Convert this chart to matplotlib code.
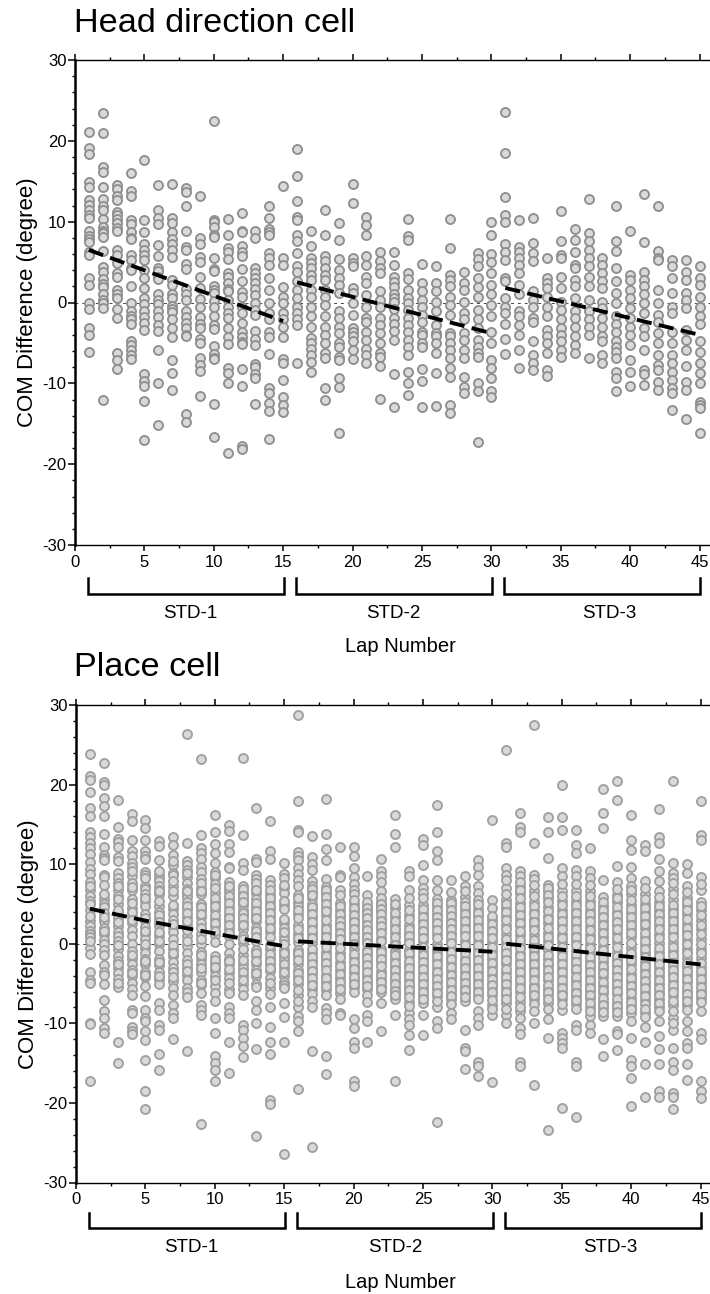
import matplotlib
matplotlib.use("Agg")
import matplotlib.pyplot as plt
from matplotlib.ticker import MultipleLocator
from matplotlib.transforms import blended_transform_factory

plt.rcParams['font.family'] = ['Liberation Sans', 'DejaVu Sans']
plt.rcParams['axes.unicode_minus'] = False

W, H = 710, 1294

hd_std1 = [
 [21.1,19.1,18.4,14.9,14.3,12.7,12.1,11.4,10.8,10.5,8.8,8.2,7.9,7.5,6.3,5.9,3.0,2.2,0,-0.8,-3.2,-4.0,-6.1],
 [23.4,21.0,16.8,16.2,14.3,12.8,12.0,11.4,10.3,9.3,8.9,8.6,8.1,6.4,4.4,3.8,2.9,2.3,1.9,1.0,0.3,0,-0.7,-12.0],
 [14.5,14.0,13.2,12.7,11.2,10.8,10.3,9.8,9.2,8.9,6.5,5.9,4.9,3.6,3.2,1.5,1.0,0.6,-0.8,-1.9,-6.2,-7.1,-8.2],
 [16.0,13.8,13.2,10.2,9.7,8.7,8.0,7.8,5.9,5.3,4.3,4.0,2.1,0,-1.0,-1.7,-2.1,-2.7,-4.8,-5.3,-5.9,-6.5,-7.0],
 [17.6,10.2,8.7,7.2,6.5,5.9,5.3,4.0,3.0,1.8,0.6,-0.2,-1.0,-1.8,-2.5,-3.4,-8.9,-9.7,-10.3,-12.2,-17.0],
 [14.5,11.4,10.4,9.7,7.1,5.8,4.3,3.9,3.2,2.9,1.0,0.3,-0.2,-1.0,-1.8,-2.8,-3.5,-5.9,-10.0,-15.1],
 [14.6,10.5,9.8,8.7,7.8,7.2,6.5,5.6,2.8,2.2,1.0,0.5,-0.4,-0.8,-1.2,-2.0,-3.2,-4.3,-7.1,-8.7,-10.8],
 [14.2,13.7,12.0,8.9,6.9,6.5,4.8,4.1,1.7,1.0,0.3,-1.0,-1.8,-2.5,-3.2,-4.0,-4.2,-13.8,-14.8],
 [13.2,8.0,7.2,5.6,5.0,3.2,1.8,0.4,-0.5,-1.8,-2.6,-3.2,-4.5,-5.0,-6.9,-7.7,-8.5,-11.6],
 [22.4,10.2,9.9,9.3,8.3,8.1,5.5,4.2,3.9,2.0,1.6,1.2,0.2,-0.5,-1.7,-2.8,-3.3,-5.4,-6.4,-6.9,-7.0,-12.5,-16.6],
 [10.3,8.4,6.8,6.2,5.4,3.7,3.1,2.4,1.7,1.4,0.3,-0.5,-1.3,-1.9,-3.1,-4.3,-5.1,-8.1,-8.7,-9.9,-18.6],
 [11.1,8.9,8.7,7.0,6.3,5.8,4.1,2.6,1.3,0.7,-0.5,-1.3,-2.5,-3.6,-4.3,-4.9,-5.1,-8.2,-10.3,-17.8,-18.1],
 [8.8,8.0,4.3,3.6,3.0,2.4,1.7,0.9,-0.1,-0.9,-1.6,-3.5,-4.5,-5.3,-7.6,-8.0,-8.8,-9.3,-12.5],
 [11.9,10.4,9.1,8.7,8.4,6.1,5.5,4.7,3.0,1.5,-0.1,-1.3,-2.0,-3.6,-4.3,-6.4,-10.6,-11.2,-12.4,-13.4,-16.9],
 [14.4,5.5,4.6,1.9,0.7,-0.1,-1.3,-2.0,-3.0,-4.3,-7.0,-7.5,-9.6,-11.7,-12.7,-13.5],
]
hd_std2 = [
 [19.0,15.6,12.6,10.6,10.2,8.4,7.6,6.1,4.5,3.8,2.6,1.6,0.5,-0.5,-1.3,-2.0,-2.8,-7.5],
 [8.8,7.0,5.5,4.9,4.3,3.4,2.8,1.6,0.7,-0.5,-1.7,-3.0,-4.4,-5.0,-5.7,-6.5,-7.3,-8.6],
 [11.5,8.3,5.7,5.1,4.3,3.4,2.8,1.6,0.7,-0.3,-1.7,-3.0,-4.0,-5.0,-6.3,-6.9,-10.6,-12.0],
 [9.8,7.7,5.4,4.0,3.0,2.2,1.2,-1.1,-1.9,-3.0,-3.8,-5.0,-5.5,-6.7,-7.1,-9.4,-10.4,-16.2],
 [14.6,12.3,5.5,4.9,4.5,1.8,1.2,-0.1,-1.5,-3.2,-3.6,-4.2,-4.8,-5.9,-7.0],
 [10.6,9.6,8.4,5.8,4.7,3.2,2.4,0.9,-0.6,-1.9,-2.4,-3.6,-4.6,-5.7,-6.5,-7.5],
 [6.3,5.1,4.3,3.6,1.4,0.3,-0.5,-1.9,-2.8,-3.8,-5.0,-6.3,-6.7,-7.9,-11.9],
 [6.2,4.7,3.1,2.5,1.9,1.1,0.6,0.1,-0.8,-1.9,-2.7,-3.5,-4.7,-8.8,-12.9],
 [10.3,8.2,7.7,3.7,2.9,1.5,0.5,-0.1,-0.9,-1.9,-2.8,-3.6,-4.6,-5.5,-6.5,-8.6,-10.0,-11.4],
 [4.8,2.4,1.4,0.3,-0.5,-1.5,-2.4,-3.6,-4.0,-5.0,-5.5,-8.2,-9.7,-12.9],
 [4.5,2.4,1.4,0.1,-1.1,-2.8,-3.8,-4.2,-5.0,-6.3,-8.7,-12.8],
 [10.3,6.8,3.4,2.8,2.0,0.7,-0.3,-1.5,-3.8,-4.2,-5.0,-5.9,-6.9,-8.1,-9.2,-12.7,-13.7],
 [3.8,2.4,1.6,0.1,-1.3,-2.1,-3.8,-4.6,-5.9,-6.9,-9.2,-10.4,-11.2],
 [6.1,5.4,4.5,3.0,1.9,0.7,-0.9,-2.1,-3.2,-4.6,-5.5,-6.3,-6.7,-9.9,-11.0,-17.2],
 [9.9,8.3,6.0,5.0,3.6,2.2,1.0,-0.3,-1.7,-3.6,-5.0,-7.1,-8.1,-9.4,-11.0,-11.7],
]
hd_std3 = [
 [23.6,18.5,13.0,10.8,10.0,7.2,6.2,5.3,3.0,2.6,0.5,-0.5,-1.3,-2.6,-4.5,-6.4],
 [10.2,6.9,6.3,5.5,4.7,3.6,2.2,1.0,-1.1,-1.7,-2.8,-4.0,-5.9,-8.1],
 [10.5,7.4,6.1,5.1,1.4,0.3,-0.5,-1.9,-2.4,-4.8,-6.5,-7.5,-8.3],
 [5.5,3.0,2.4,1.8,0.7,-0.5,-1.7,-3.4,-4.2,-5.0,-6.3,-8.3,-9.1],
 [11.3,7.6,5.9,5.5,3.2,1.8,0.1,-0.9,-2.1,-3.2,-4.0,-4.8,-5.9,-6.7],
 [9.1,7.7,6.3,4.7,4.3,2.8,2.0,0.5,-1.1,-1.9,-3.0,-4.2,-5.2,-6.3],
 [12.8,8.6,7.6,6.5,5.5,4.5,3.2,2.0,0.3,-1.1,-2.1,-3.0,-4.0,-6.9],
 [5.5,4.7,3.6,2.6,1.8,0.1,-0.7,-1.9,-3.0,-4.2,-4.8,-6.5,-7.5],
 [11.9,7.6,6.4,4.3,2.6,1.2,-0.1,-1.7,-2.6,-3.6,-4.8,-5.5,-6.1,-6.9,-8.6,-9.4,-11.0],
 [8.9,3.4,2.8,1.6,0.5,-0.7,-1.9,-3.0,-4.0,-5.2,-7.1,-8.6,-10.3],
 [13.4,7.5,3.8,2.8,2.0,1.0,-0.1,-1.3,-3.2,-4.2,-5.9,-8.3,-8.8,-10.2],
 [12.0,6.4,5.5,5.3,1.6,-0.1,-1.5,-2.4,-3.8,-5.0,-6.5,-7.7,-8.3,-9.8,-10.8],
 [5.3,4.5,3.0,1.2,-0.5,-1.3,-3.6,-5.0,-6.5,-7.5,-8.6,-9.6,-10.6,-11.2,-13.3],
 [5.2,3.8,2.8,1.2,0.3,-0.7,-3.4,-4.6,-5.9,-7.8,-9.8,-10.8,-14.4],
 [4.5,3.0,2.2,0.7,-0.5,-1.7,-2.6,-4.8,-6.1,-7.5,-8.7,-9.9,-12.3,-12.7,-13.1,-16.2],
]
pc_std1 = [
 [23.8,21.1,20.6,19.1,17.1,16.1,14.0,13.4,12.6,12.0,11.3,10.3,9.4,8.8,7.7,6.7,6.0,5.4,4.3,2.9,2.2,1.6,1.2,0.9,-0.5,-1.3,-3.5,-4.5,-4.9,-9.9,-10.1,-17.2],
 [22.7,20.3,20.0,18.3,17.3,16.1,13.8,12.2,11.2,10.8,10.5,8.7,8.4,7.4,5.6,5.0,4.6,3.9,2.8,2.0,1.2,0.5,0,-0.8,-2.7,-3.6,-3.9,-5.1,-7.1,-8.5,-9.3,-10.6,-11.2],
 [18.1,14.7,13.2,12.8,12.2,10.9,10.4,8.9,8.2,7.6,6.8,6.0,5.0,3.8,3.2,2.2,1.5,1.0,0.3,-0.7,-1.6,-2.2,-3.0,-3.7,-4.4,-5.4,-12.3,-15.0],
 [16.3,15.4,13.0,11.7,11.0,10.1,9.7,8.5,7.6,6.7,5.6,4.5,3.5,2.6,1.7,1.0,0,-0.9,-1.9,-2.5,-3.3,-4.1,-4.9,-5.7,-6.4,-8.3,-8.7,-10.4,-11.0,-11.4],
 [15.6,14.5,13.0,11.6,11.0,10.6,9.0,8.6,7.3,6.9,6.2,5.4,4.7,3.7,2.8,2.1,1.2,0.6,-0.5,-1.1,-1.9,-2.5,-3.5,-4.2,-5.3,-6.6,-8.3,-9.3,-9.7,-11.0,-12.1,-14.6,-18.5,-20.8],
 [12.9,12.3,10.5,8.7,8.3,7.9,7.3,6.8,6.2,4.7,4.0,3.1,2.2,1.0,0,-0.9,-1.9,-2.7,-3.5,-4.4,-5.0,-7.4,-8.3,-10.2,-10.8,-13.8,-15.9],
 [13.4,12.4,11.2,9.9,8.9,8.6,7.3,6.0,4.4,3.8,3.0,2.1,1.5,0.6,-0.7,-1.6,-2.3,-3.0,-3.5,-4.7,-5.5,-6.5,-7.7,-8.7,-9.3,-12.0],
 [26.3,12.7,10.4,9.9,8.4,7.6,6.9,6.3,5.9,5.3,4.4,3.4,2.4,1.0,-0.3,-1.2,-2.0,-3.0,-3.9,-4.6,-5.5,-6.1,-6.7,-13.5],
 [23.2,13.7,12.0,11.4,10.7,9.6,9.0,8.1,7.0,6.2,5.0,4.2,3.3,2.6,1.2,0,-1.0,-1.9,-2.6,-3.6,-4.5,-5.2,-6.2,-7.7,-8.3,-9.0,-22.7],
 [16.2,14.1,12.5,11.4,10.2,9.0,8.3,7.5,6.4,5.3,4.3,3.1,2.2,1.1,0.2,-1.5,-2.4,-3.3,-4.0,-5.3,-6.2,-7.2,-9.3,-11.2,-14.1,-15.0,-15.9,-17.3],
 [14.9,14.2,12.5,11.5,9.7,9.5,7.8,6.9,6.5,5.6,4.6,3.6,2.8,1.8,1.0,0,-1.1,-1.9,-2.6,-3.7,-4.3,-5.7,-6.2,-7.9,-8.7,-9.3,-12.4,-16.2],
 [23.3,13.7,10.2,9.3,7.3,6.4,5.6,4.9,4.2,3.6,2.7,1.9,1.0,0.1,-1.4,-2.5,-3.1,-4.1,-5.0,-5.7,-6.4,-10.2,-10.8,-11.8,-12.9,-14.2],
 [17.0,10.7,10.3,8.7,8.1,7.0,6.4,5.6,4.6,3.6,2.8,2.0,1.3,0.3,-0.8,-1.6,-2.6,-3.3,-4.1,-5.0,-7.2,-8.3,-10.0,-13.2,-24.2],
 [15.4,11.6,10.6,8.0,7.4,6.2,5.2,4.4,3.5,2.6,1.5,0.9,-0.7,-1.8,-2.6,-3.4,-4.3,-5.5,-6.3,-7.9,-10.5,-12.3,-13.8,-19.6,-20.1],
 [10.2,8.8,8.2,7.0,6.4,4.9,2.6,2.0,1.0,0.5,-0.8,-1.6,-2.0,-3.0,-4.1,-4.8,-5.2,-7.4,-9.2,-12.4,-26.4],
]
pc_std2 = [
 [28.8,18.0,14.3,14.1,11.5,11.0,10.5,9.5,8.8,8.0,6.1,5.3,4.8,3.7,2.4,1.2,0.2,-0.8,-1.5,-2.6,-3.3,-4.2,-5.0,-6.5,-7.9,-9.1,-9.7,-11.0,-18.2],
 [13.5,10.9,10.0,9.3,7.9,7.3,6.5,5.7,5.0,4.2,3.2,2.2,1.2,0.2,-1.2,-2.2,-3.0,-3.8,-4.8,-5.7,-6.3,-7.2,-7.9,-13.5,-25.6],
 [18.2,13.8,11.9,10.5,8.1,7.1,6.4,5.5,4.5,3.6,2.4,1.3,0.2,-1.0,-1.9,-2.8,-3.9,-4.8,-5.8,-6.5,-8.1,-8.7,-9.5,-14.1,-16.4],
 [12.2,8.7,8.4,6.7,5.1,4.2,3.4,2.5,1.9,1.0,0.2,-1.2,-2.3,-3.3,-4.3,-5.3,-6.2,-7.0,-8.7,-9.0],
 [12.2,11.0,9.5,8.4,7.5,6.7,5.0,4.1,3.1,2.3,1.4,0.4,-0.7,-1.8,-2.8,-3.7,-4.6,-5.4,-6.0,-9.5,-10.6,-12.4,-13.1,-17.2,-17.9],
 [8.5,6.1,4.7,4.2,3.6,2.8,2.0,1.3,0.5,-0.6,-1.4,-2.3,-3.1,-4.0,-4.9,-5.7,-6.4,-7.3,-9.0,-9.7,-12.4],
 [10.7,9.1,8.5,7.7,6.6,5.3,4.7,4.1,3.2,2.6,1.8,0.7,-0.6,-1.5,-2.3,-3.4,-4.4,-5.3,-6.1,-7.4,-11.0],
 [16.2,13.8,12.1,5.6,4.5,3.4,2.4,1.3,0.2,-0.9,-1.9,-2.9,-3.7,-4.7,-5.5,-6.3,-7.0,-8.9,-17.2],
 [9.1,8.5,6.8,4.9,3.6,2.4,1.4,0.5,-0.8,-1.6,-2.7,-3.5,-4.5,-5.4,-6.2,-7.3,-8.7,-9.5,-10.2,-11.5,-13.4],
 [13.1,12.4,9.9,8.0,7.0,6.4,4.9,3.9,2.9,2.0,1.2,0.3,-0.9,-1.8,-2.8,-3.7,-4.6,-5.6,-6.5,-7.4,-8.9,-11.5],
 [17.4,14.1,11.7,10.5,8.0,6.8,5.6,4.7,3.8,3.0,2.2,1.2,0,-1.0,-2.0,-3.0,-3.9,-4.8,-5.7,-6.6,-7.9,-9.7,-10.6,-22.4],
 [8.0,5.5,4.7,3.9,3.0,2.2,1.4,0.5,-0.6,-1.5,-2.4,-3.4,-4.3,-5.3,-6.3,-7.0,-8.7,-9.5],
 [8.5,7.2,5.9,5.3,4.3,3.3,2.4,1.5,0.4,-0.7,-1.8,-2.7,-3.5,-4.4,-5.4,-6.2,-7.2,-10.8,-13.1,-13.5,-15.8],
 [10.5,9.7,8.7,7.2,6.4,5.5,4.4,3.5,2.5,1.5,0.4,-0.6,-1.6,-2.6,-3.5,-4.5,-5.5,-6.5,-8.5,-9.3,-10.2,-14.8,-15.3,-16.6],
 [15.6,5.5,4.5,3.0,2.0,1.2,0.2,-0.9,-1.9,-2.9,-3.9,-4.9,-5.6,-6.5,-7.7,-8.9,-17.4],
]
pc_std3 = [
 [24.4,12.6,12.1,9.5,8.7,7.0,5.5,4.5,3.5,2.4,1.2,0.1,-0.8,-1.7,-2.6,-3.7,-4.7,-5.5,-6.5,-7.5,-8.9,-10.0],
 [16.4,14.7,14.1,9.1,8.5,7.2,6.4,5.1,4.1,3.1,2.2,1.1,0,-1.1,-2.1,-3.0,-4.0,-5.1,-6.1,-7.3,-8.5,-9.3,-10.6,-11.4,-14.8,-15.3],
 [27.5,12.6,8.7,8.1,6.6,5.2,4.1,3.1,2.2,1.1,0,-1.0,-2.0,-3.0,-4.0,-5.2,-6.0,-7.0,-10.0,-17.8],
 [15.9,14.0,10.8,7.4,6.6,5.7,4.6,3.5,2.6,1.4,0.4,-0.8,-1.9,-2.8,-3.7,-4.6,-5.7,-6.5,-7.5,-9.5,-11.8,-23.4],
 [20.0,15.9,14.3,9.5,8.5,6.6,5.4,4.3,3.3,2.3,1.2,0.2,-1.0,-2.0,-3.0,-4.1,-5.0,-6.0,-7.0,-8.3,-11.2,-11.8,-12.5,-13.1,-20.6],
 [14.3,12.4,11.4,9.3,8.5,6.6,5.4,4.3,3.3,2.4,1.2,0.3,-0.8,-1.8,-2.7,-3.6,-4.7,-5.8,-6.6,-7.6,-10.2,-10.9,-14.8,-15.3,-21.8],
 [12.0,9.1,8.3,6.6,5.4,4.3,3.3,2.2,1.1,0,-1.1,-2.2,-3.1,-4.1,-5.1,-5.9,-6.8,-7.9,-9.1,-10.2,-11.2],
 [19.5,16.4,14.6,8.0,5.9,4.7,3.7,2.8,1.8,0.8,-0.3,-1.3,-2.3,-3.2,-4.2,-5.3,-6.2,-7.3,-8.1,-9.1,-12.0,-14.1],
 [20.4,18.1,9.8,7.7,6.1,5.2,4.0,3.1,2.3,1.3,0.2,-1.0,-2.0,-2.8,-3.7,-4.6,-5.4,-6.3,-7.4,-8.1,-9.1,-11.0,-11.4,-13.4],
 [16.2,13.0,11.8,9.7,8.2,7.2,6.2,4.9,3.9,2.9,1.9,0.8,-0.5,-1.6,-2.6,-3.8,-4.8,-5.7,-6.8,-7.8,-8.7,-9.7,-11.8,-14.6,-15.3,-16.9,-20.4],
 [12.4,11.7,7.9,6.2,5.0,4.0,3.0,2.0,0.9,-0.1,-1.1,-2.3,-3.3,-4.2,-5.1,-6.1,-7.1,-8.7,-10.4,-12.4,-15.1,-19.2],
 [16.9,13.4,12.6,10.7,9.1,6.6,5.3,4.3,3.3,2.3,1.2,0.1,-1.0,-2.0,-3.0,-4.0,-5.0,-6.0,-7.0,-8.0,-9.7,-11.6,-13.2,-15.1,-18.5,-19.2],
 [20.4,10.2,8.9,8.3,6.9,5.5,4.4,3.4,2.4,1.3,0.2,-0.9,-1.9,-2.8,-3.8,-4.7,-5.7,-6.6,-7.7,-9.3,-10.8,-13.1,-14.8,-15.9,-18.7,-19.2,-20.8],
 [10.0,8.9,7.2,5.8,4.7,3.7,2.5,1.6,0.5,-0.7,-1.8,-2.9,-3.9,-4.8,-5.9,-6.7,-7.7,-9.7,-11.0,-12.5,-13.1,-15.1,-17.1],
 [17.9,13.7,13.0,8.4,6.7,5.2,4.2,3.0,1.9,0.6,-0.6,-1.8,-2.9,-3.9,-4.9,-5.9,-6.8,-8.5,-11.2,-12.0,-17.3,-18.5,-19.4],
]

# further points inside the solid part of each place-cell column
pc_dense_std1 = [
 [7.2,5.0,3.5,0.3],[6.2,3.3,1.6,-1.4],[7.2,5.6,4.3,2.7,-0.2,-2.6,-4.9],[9.2,7.1,5.1,4.0,3.0,-1.4,-3.7],[8.2,5.8,3.2,1.6,0,-2.2,-3.9],
 [9.2,6.6,5.4,3.6,2.7,1.5,0.4,-2.3,-4.0],[10.4,7.9,6.6,4.9,2.5,-0.2,-1.2,-4.2],[9.3,8.9,6.6,4.8,3.9,2.9,1.7,0.4,-2.5,-3.4],[7.6,6.6,4.6,3.7,2.0,0.6,-1.4,-3.1,-4.9],[8.7,7.0,5.8,4.8,3.6,2.6,1.6,-2.0,-2.9,-4.6],
 [7.2,6.0,5.1,4.1,3.2,2.3,1.4,-2.2,-3.2,-4.9],[6.9,6.0,5.2,3.9,3.2,2.3,0.6,-0.6,-2.0,-3.6,-4.6],[7.6,6.7,5.1,4.1,3.2,1.6,0.8,-1.2,-2.2,-3.7,-5.4],[6.8,5.7,4.8,3.9,3.0,2.0,-0.2,-1.3,-2.2,-3.0,-4.9],[7.4,5.4,4.4,3.1,1.5,0,-1.2,-2.5,-3.5,-5.6],
]
pc_dense_std2 = [
 [7.2,5.8,4.3,3.2,1.8,0.7,-1.1,-2.1,-3.7,-4.6,-5.8,-7.2],[6.9,6.1,4.6,3.7,2.7,1.7,0.7,-0.6,-1.7,-2.6,-3.4,-4.3,-5.2],[6.8,5.9,5.0,4.1,3.0,1.8,0.8,-0.4,-1.5,-2.4,-3.3,-4.3,-5.3],[6.1,4.7,3.8,2.9,2.2,1.4,0.6,-0.5,-1.7,-2.8,-3.8,-4.8,-5.7],[6.2,5.5,4.5,3.6,2.7,1.8,0.9,0,-1.3,-2.3,-3.2,-4.2,-5.0],
 [5.2,4.5,3.9,3.2,2.4,1.7,0.9,0.1,-1.0,-1.8,-2.7,-3.5,-4.5,-5.3],[5.8,5.0,4.4,3.7,2.9,2.2,1.3,0.3,-1.0,-1.9,-2.8,-3.9,-4.8,-5.7],[5.0,3.9,2.9,1.9,0.8,-0.2,-1.4,-2.4,-3.3,-4.2,-5.1,-5.9,-6.5],[5.8,4.3,3.1,1.9,1.0,0.1,-1.2,-2.2,-3.1,-4.0,-5.0,-5.8,-6.7,-7.8],[5.8,4.4,3.4,2.5,1.6,0.7,-0.4,-1.4,-2.3,-3.2,-4.2,-5.1,-6.0,-7.0],
 [5.1,4.2,3.4,2.6,1.7,0.7,-0.5,-1.5,-2.5,-3.5,-4.4,-5.3,-6.2,-7.2],[6.5,5.1,4.3,3.5,2.6,1.8,1.0,0.1,-1.0,-1.9,-2.9,-3.9,-4.8,-5.8,-6.6,-7.6],[6.6,4.8,3.8,2.9,1.9,1.0,-0.2,-1.2,-2.2,-3.1,-4.0,-4.9,-5.8,-6.7],[5.0,3.9,3.0,2.0,1.0,-0.1,-1.1,-2.1,-3.0,-4.0,-5.0,-6.0,-7.0],[3.5,2.5,1.6,0.7,-0.4,-1.4,-2.4,-3.4,-4.4,-5.2,-6.0,-7.1,-8.2],
]
pc_dense_std3 = [
 [8.0,6.2,5.0,4.0,3.0,1.8,0.6,-0.4,-1.2,-2.1,-3.2,-4.2,-5.1,-6.0,-7.0,-8.2],[7.7,6.8,5.7,4.6,3.6,2.6,1.6,0.5,-0.5,-1.6,-2.5,-3.5,-4.5,-5.6,-6.7,-7.9],[7.4,6.0,4.7,3.7,2.7,1.7,0.5,-0.5,-1.5,-2.5,-3.5,-4.6,-5.6,-6.5,-7.6,-8.5],[7.0,6.1,5.2,4.1,3.1,2.0,0.9,-0.2,-1.4,-2.4,-3.3,-4.2,-5.2,-6.1,-7.0,-8.2],[7.5,6.0,4.9,3.8,2.8,1.8,0.7,-0.4,-1.5,-2.5,-3.5,-4.6,-5.5,-6.5,-7.6],
 [7.5,6.0,4.9,3.9,2.9,1.9,0.8,-0.2,-1.3,-2.3,-3.2,-4.2,-5.2,-6.2,-7.1,-8.2],[7.4,6.0,4.9,3.8,2.8,1.7,0.6,-0.5,-1.7,-2.7,-3.6,-4.6,-5.5,-6.4,-7.4,-8.5],[5.3,4.2,3.3,2.3,1.3,0.3,-0.8,-1.8,-2.8,-3.7,-4.8,-5.8,-6.8,-7.7,-8.6],[6.9,5.7,4.6,3.6,2.7,1.8,0.7,-0.4,-1.5,-2.4,-3.3,-4.2,-5.0,-5.9,-6.9,-7.8,-8.6],[6.7,5.5,4.4,3.4,2.4,1.3,0.1,-1.1,-2.1,-3.2,-4.3,-5.3,-6.2,-7.3,-8.2],
 [7.0,5.6,4.5,3.5,2.5,1.4,0.4,-0.6,-1.7,-2.8,-3.8,-4.7,-5.6,-6.6,-7.6,-8.2,-9.2],[7.9,5.9,4.8,3.8,2.8,1.8,0.7,-0.5,-1.5,-2.5,-3.5,-4.5,-5.5,-6.5,-7.5,-8.5],[7.6,6.2,4.9,3.9,2.9,1.9,0.8,-0.4,-1.4,-2.4,-3.3,-4.2,-5.2,-6.1,-7.2,-8.4,-9.9],[6.5,5.2,4.2,3.1,2.0,1.1,0,-1.2,-2.4,-3.4,-4.4,-5.4,-6.3,-7.2,-8.3],[7.5,4.7,3.6,2.4,1.2,0,-1.2,-2.4,-3.4,-4.4,-5.4,-6.3,-7.3],
]

std_labels = ['STD-1', 'STD-2', 'STD-3']
std_spans = [(1, 15), (16, 30), (31, 45)]
hd_trend = [([1, 15], [6.5, -2.3]), ([16, 30], [2.5, -3.8]), ([31, 45], [1.8, -4.0])]
pc_trend = [([1, 5, 10, 13, 15], [4.4, 2.9, 1.3, 0.3, -0.3]), ([16, 30], [0.3, -1.0]), ([31, 45], [0.0, -2.6])]


def draw(left, top, bottom, xmax, blocks, trend, title, title_y, brk_y, lab_y, lap_y, lab_x, edge):
    ax = fig.add_axes([left / W, 1 - bottom / H, (W - left) / W, (bottom - top) / H])
    ax.set_xlim(0, xmax)
    ax.set_ylim(-30, 30)
    ax.axhline(0, color='#444444', lw=0.7, dashes=(3, 4), zorder=1)
    lap = 1
    for block in blocks:
        for vals in block:
            ax.plot([lap] * len(vals), vals, ls='none', marker='o', ms=6.5, mew=1.35,
                    mfc='#d9d9d9', mec=edge, zorder=2, clip_on=False)
            lap += 1
    for xs, ys in trend:
        ax.plot(xs, ys, color='black', lw=2.8, dashes=(3.9, 1.9), zorder=3, dash_capstyle='butt')
    ax.spines['right'].set_visible(False)
    ax.spines['left'].set_linewidth(1.8)
    ax.spines['top'].set_linewidth(1.0)
    ax.spines['bottom'].set_linewidth(1.0)
    ax.xaxis.set_major_locator(MultipleLocator(5))
    ax.xaxis.set_minor_locator(MultipleLocator(2.5))
    ax.yaxis.set_major_locator(MultipleLocator(10))
    ax.yaxis.set_minor_locator(MultipleLocator(2))
    ax.tick_params(axis='x', which='major', length=4, width=1.1, top=True, labelsize=12, pad=3)
    ax.tick_params(axis='x', which='minor', length=2.5, width=1.0, top=True)
    ax.tick_params(axis='y', which='major', length=5, width=1.1, labelsize=12, pad=1)
    ax.tick_params(axis='y', which='minor', length=2.5, width=1.0)
    ax.set_ylabel('COM Difference (degree)', fontsize=16, labelpad=3)
    tr = blended_transform_factory(ax.transData, fig.transFigure)
    for (a, b), name, cx in zip(std_spans, std_labels, lab_x):
        ax.plot([a - 0.06, a - 0.06, b + 0.06, b + 0.06],
                [1 - brk_y[0] / H, 1 - brk_y[1] / H, 1 - brk_y[1] / H, 1 - brk_y[0] / H],
                color='black', lw=1.8, transform=tr, clip_on=False, solid_joinstyle='miter')
        fig.text(cx / W, 1 - lab_y / H, name, ha='center', va='center', fontsize=13.5)
    fig.text(400.5 / W, 1 - lap_y / H, 'Lap Number', ha='center', va='center', fontsize=14.5)
    fig.text(74 / W, 1 - title_y / H, title, ha='left', va='center', fontsize=24.7)


def merged(base, extra):
    return [a + b for a, b in zip(base, extra)]


fig = plt.figure(figsize=(W / 100, H / 100), dpi=100, facecolor='white')
draw(75, 60, 545, 45.75, [hd_std1, hd_std2, hd_std3], hd_trend, 'Head direction cell',
     23, (578, 594), 613, 646, (190, 393, 609), '#8f8f8f')
draw(76, 705, 1182.5, 45.68,
     [merged(pc_std1, pc_dense_std1), merged(pc_std2, pc_dense_std2), merged(pc_std3, pc_dense_std3)],
     pc_trend, 'Place cell', 667, (1213, 1228), 1248, 1282, (191, 395, 610), '#a0a0a0')
fig.savefig('out.png', dpi=100)
